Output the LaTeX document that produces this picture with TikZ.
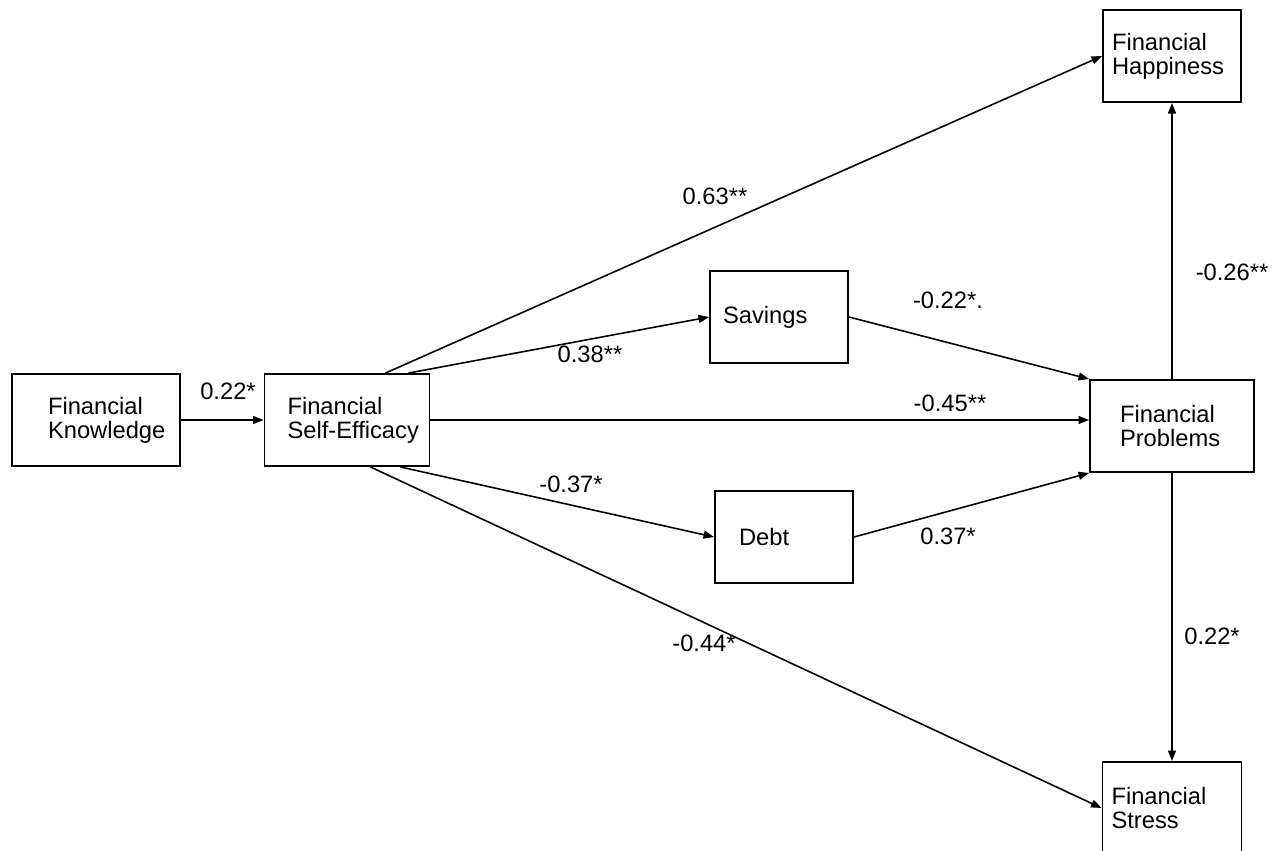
\documentclass[tikz,border=0pt]{standalone}
\usepackage{fontspec}
\setmainfont{Liberation Sans}
\usetikzlibrary{arrows.meta, positioning}

\tikzset{
  box/.style={draw, line width=1.1pt, align=left, minimum height=1.84cm,
    font=\fontsize{13.5}{13.6}\selectfont},
  coef/.style={font=\fontsize{13.5}{14}\selectfont},
  link/.style={line width=0.9pt, -{Triangle[length=6pt,width=4.5pt]}}
}

\begin{document}
\begin{tikzpicture}[x=0.02cm, y=-0.02cm]
    \useasboundingbox (0,0) rectangle (1275,850);

    % Cajas
    \node[box, text width=1.92cm, inner xsep=0.72cm] (know) at (96,420) {Financial\\Knowledge};
    \node[box, text width=2.38cm, inner xsep=0.46cm] (eff) at (347,420) {Financial\\\mbox{Self-Efficacy}};
    \node[box, text width=2.24cm, inner xsep=0.26cm] (sav) at (779,317) {Savings};
    \node[box, text width=1.8cm, inner xsep=0.48cm] (debt) at (784,537) {Debt};
    \node[box, text width=2.08cm, inner xsep=0.6cm] (prob) at (1172,426) {Financial\\Problems};
    \node[box, text width=2.4cm, inner xsep=0.18cm] (hap) at (1172,56) {Financial\\Happiness};
    \node[box, text width=2.42cm, inner xsep=0.18cm] (stress) at (1172,808) {Financial\\Stress};

    % Caminos
    \draw[link] (know.east) -- (eff.west |- know.east);
    \draw[link] ([xshift=-0.9cm]eff.north east) -- (hap.west);
    \draw[link] ([xshift=-0.44cm]eff.north east) -- (sav.west);
    \draw[link] (eff.east) -- (prob.west |- eff.east);
    \draw[link] ([xshift=-0.6cm]eff.south east) -- (debt.west);
    \draw[link] ([xshift=-1.2cm]eff.south east) -- (stress.west);
    \draw[link] (sav.east) -- (prob.north west);
    \draw[link] (debt.east) -- (prob.south west);
    \draw[link] (prob.north) -- (hap.south);
    \draw[link] (prob.south) -- (stress.north);

    % Coeficientes
    \node[coef] (c1) at (228,391) {0.22*};
    \node[coef] (c2) at (715,196) {0.63**};
    \node[coef] (c3) at (590,354) {0.38**};
    \node[coef] (c4) at (948,300) {-0.22*.};
    \node[coef] (c5) at (950,403) {-0.45**};
    \node[coef] (c6) at (571,484) {-0.37*};
    \node[coef] (c7) at (948,536) {0.37*};
    \node[coef] (c8) at (704,643) {-0.44*};
    \node[coef] (c9) at (1232,272) {-0.26**};
    \node[coef] (c10) at (1212,636) {0.22*};
\end{tikzpicture}
\end{document}
